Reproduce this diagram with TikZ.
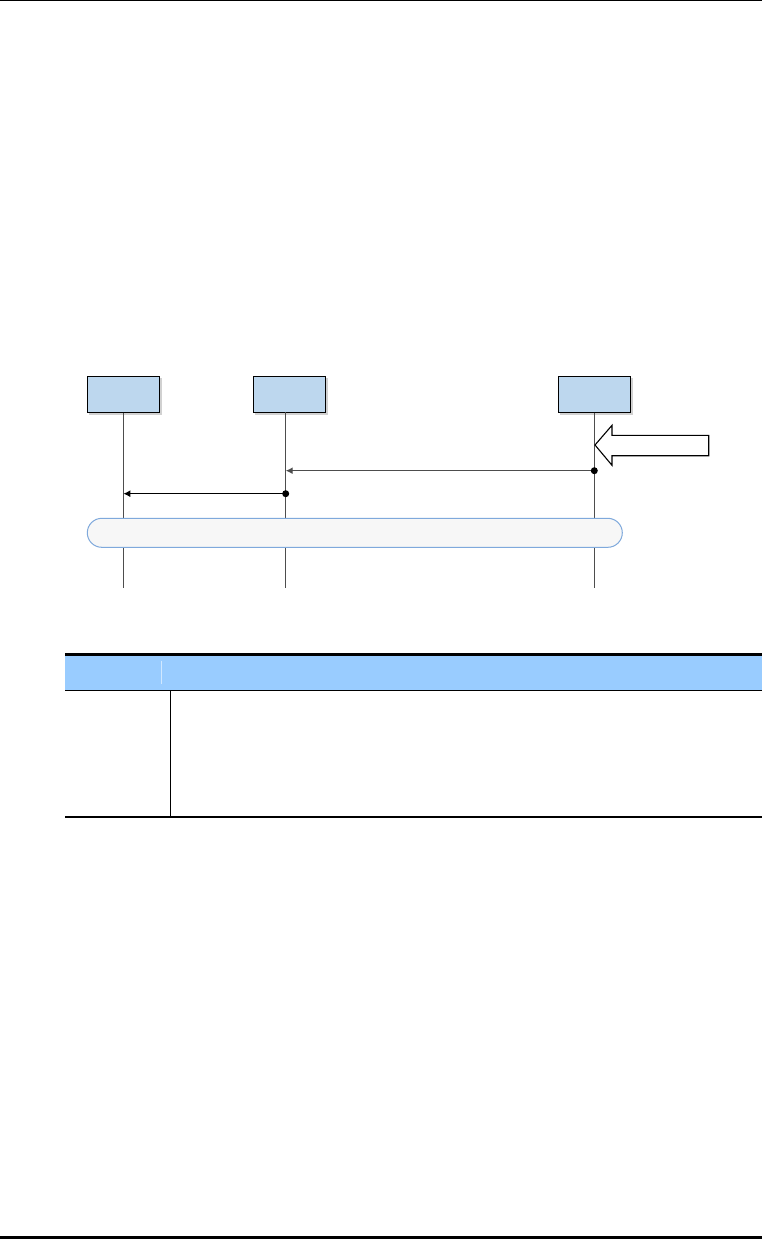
\documentclass[tikz,border=0pt]{standalone}
\usetikzlibrary{arrows.meta}
\definecolor{boxblue}{HTML}{BDD7EE}
\definecolor{hdrblue}{HTML}{99CCFF}
\definecolor{pillfill}{HTML}{F7F7F7}
\definecolor{pilldraw}{HTML}{7FA9DC}
\definecolor{lifegray}{HTML}{4D4D4D}
\begin{document}
\begin{tikzpicture}[x=1pt,y=-1pt,
  actorbox/.style={draw=black,line width=1pt,fill=boxblue,minimum width=72pt,minimum height=36pt,inner sep=0pt},
  boxshadow/.style={fill=black!18},
  lifeline/.style={draw=lifegray,line width=1.2pt},
  msg/.style={draw=black,line width=1.5pt,-{Latex[length=7pt,width=7pt]}},
  dotstart/.style={fill=black,circle,inner sep=0pt,minimum size=7pt}]
\useasboundingbox (0,0) rectangle (762,1239);
\fill[white] (0,0) rectangle (762,1239);
% page rules
\draw[line width=1.2pt] (0,0.6) -- (762,0.6);
\draw[line width=3pt] (0,1237.5) -- (762,1237.5);
% shadows
\fill[boxshadow] (89,378) rectangle (161.5,414.5);
\fill[boxshadow] (255,378) rectangle (327.5,414.5);
\fill[boxshadow] (560,378) rectangle (632.5,414.5);
% actors
\node[actorbox] (a1) at (123.3,394.2) {};
\node[actorbox] (a2) at (289.5,394.2) {};
\node[actorbox] (a3) at (594.3,394.2) {};
% lifeline coordinates
\coordinate (e1) at (123.3,588);
\coordinate (e2) at (285.7,588);
\coordinate (e3) at (594.3,588);
\draw[lifeline] (a1.south) -- (e1);
\draw[lifeline] (285.7,412.2) coordinate (s2) -- (e2);
\draw[lifeline] (a3.south) -- (e3);
% messages
\coordinate (m1s) at (594.3,470.7);
\coordinate (m1e) at (285.7,470.7);
\coordinate (m2s) at (285.7,493.7);
\coordinate (m2e) at (123.3,493.7);
\draw[msg,draw=lifegray] (m1s) -- (m1e);
\node[dotstart] (d1) at (m1s) {};
\draw[msg] (m2s) -- (m2e);
\node[dotstart] (d2) at (m2s) {};
% block arrow
\draw[line width=1.1pt,fill=white] (595,445) -- (612,425.3) -- (612,435.3) -- (708.7,435.3) -- (708.7,455.7) -- (612,455.7) -- (612,465.3) -- cycle;
% pill
\node[draw=pilldraw,fill=pillfill,line width=1pt,rounded corners=14.5pt,minimum width=535pt,minimum height=29pt,inner sep=0pt] (pill) at (354.8,532.8) {};
% table
\fill[hdrblue] (65,656) rectangle (762,690);
\draw[hdrblue!45!white,line width=0.8pt] (161.8,660.7) -- (161.8,684);
\draw[line width=3pt] (65,654.5) -- (762,654.5);
\draw[line width=1pt] (65,690.2) -- (762,690.2);
\draw[line width=1pt] (170.3,690.2) -- (170.3,816);
\draw[line width=2.5pt] (65,817) -- (762,817);
\end{tikzpicture}
\end{document}
